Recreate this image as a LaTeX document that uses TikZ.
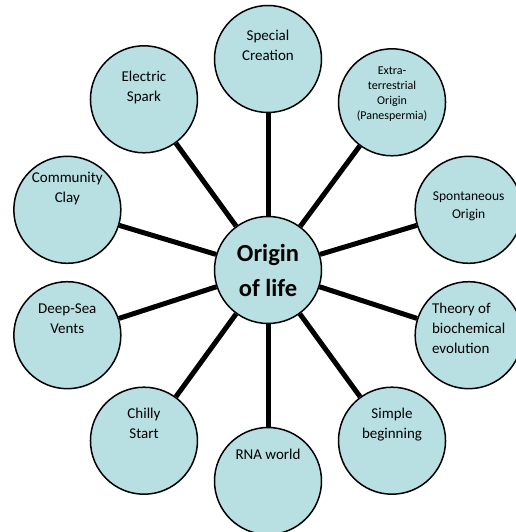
\documentclass[tikz,border=0pt]{standalone}
\usepackage{fontspec}
\setmainfont{Carlito}
\definecolor{bubbleblue}{RGB}{184,223,226}

\begin{document}
\begin{tikzpicture}[
    bubble/.style={circle, draw=black, line width=1.5pt, fill=bubbleblue, minimum size=107pt, inner sep=0pt, align=center, font=\fontsize{15}{20}\selectfont, text height=0pt, text depth=5pt},
    hub/.style={circle, draw=black, line width=1.5pt, fill=bubbleblue, minimum size=107pt, inner sep=0pt, align=center, font=\bfseries\fontsize{24.5}{35}\selectfont},
    spoke/.style={line width=5pt}
]
    \useasboundingbox (-268pt,-262pt) rectangle (247pt,270pt);

    \node[hub] (origin) at (0,0) {Origin\\of life};

    % text sits in the upper half of each bubble
    \node[bubble, text height=3pt, text depth=0pt] (special) at (90:211pt) {Special\\Creation};
    \node[bubble, font=\fontsize{12}{15}\selectfont, text height=35pt, text depth=0pt, yshift=-3pt] (extra) at (54:211pt) {Extra-\\terrestrial\\Origin\\(Panespermia)};
    \node[bubble, font=\fontsize{13.5}{18}\selectfont, text height=18pt, text depth=0pt, yshift=-5pt] (spont) at (18:211pt) {Spontaneous\\Origin};
    \node[bubble, align=left, text height=37pt, text depth=0pt] (theory) at (-18:211pt) {Theory of\\biochemical\\evolution};
    \node[bubble] (simple) at (-54:211pt) {Simple\\beginning};
    \node[bubble, text depth=43pt] (rna) at (-90:211pt) {RNA world};
    \node[bubble] (chilly) at (234:211pt) {Chilly\\Start};
    \node[bubble, text depth=3pt] (deepsea) at (198:211pt) {Deep-Sea\\Vents};
    \node[bubble, text depth=15pt, yshift=-5pt] (clay) at (162:211pt) {Community\\Clay};
    \node[bubble, text height=5pt, text depth=0pt] (spark) at (126:211pt) {Electric\\Spark};

    \draw[spoke] (origin) -- (special);
    \draw[spoke] (origin) -- (extra);
    \draw[spoke] (origin) -- (spont);
    \draw[spoke] (origin) -- (theory);
    \draw[spoke] (origin) -- (simple);
    \draw[spoke] (origin) -- (rna);
    \draw[spoke] (origin) -- (chilly);
    \draw[spoke] (origin) -- (deepsea);
    \draw[spoke] (origin) -- (clay);
    \draw[spoke] (origin) -- (spark);
\end{tikzpicture}
\end{document}
